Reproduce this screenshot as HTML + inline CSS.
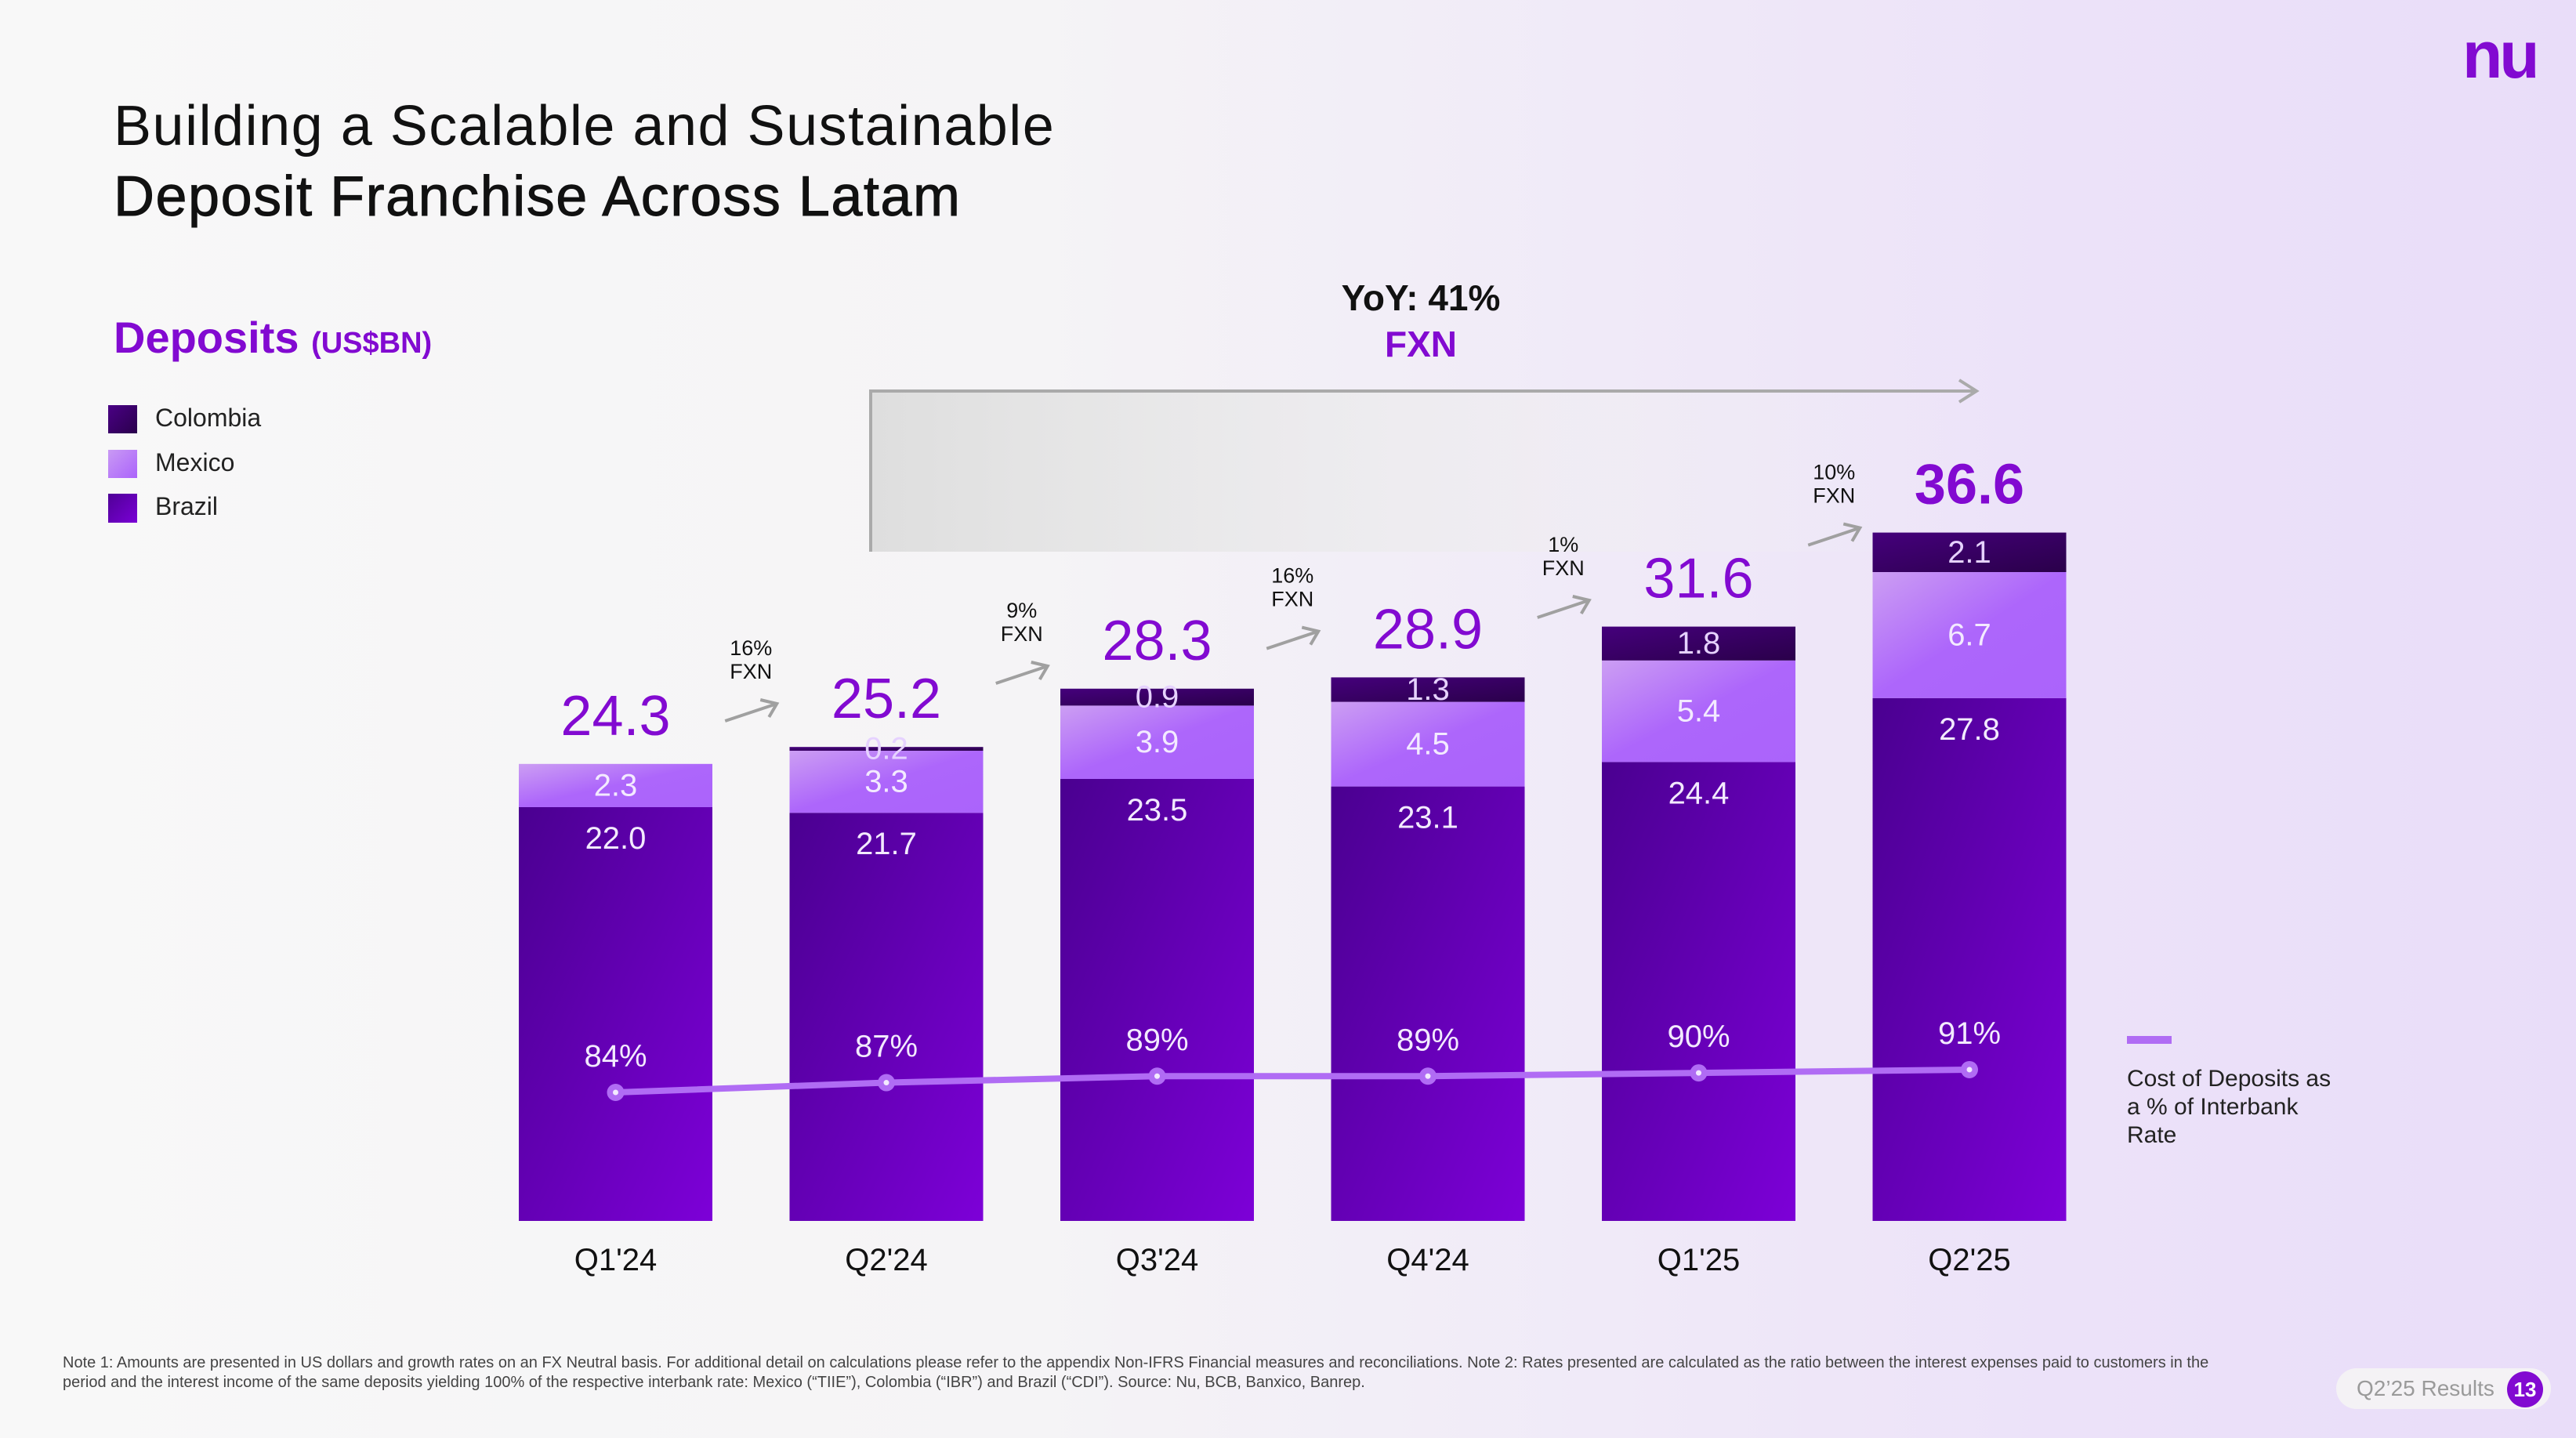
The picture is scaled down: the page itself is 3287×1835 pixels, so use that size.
<!DOCTYPE html>
<html><head><meta charset="utf-8">
<style>
html,body{margin:0;padding:0;}
body{width:3287px;height:1835px;overflow:hidden;background:linear-gradient(90deg,#f8f8f8 0%,#f5f4f6 40%,#ece2f9 80%,#e9ddf9 100%);font-family:"Liberation Sans",sans-serif;position:relative;}
.abs{position:absolute;}
</style></head>
<body>
<div class="abs" style="left:145px;top:116px;font-size:72px;letter-spacing:1.5px;line-height:90px;color:#111;white-space:nowrap;">Building a Scalable and Sustainable<br><span style="-webkit-text-stroke:1px #111;">Deposit Franchise Across Latam</span></div>
<div class="abs" style="left:3142px;top:28px;font-size:84px;font-weight:bold;color:#820ad1;letter-spacing:-4px;line-height:84px;">nu</div>
<div class="abs" style="left:145px;top:398px;font-size:56px;font-weight:bold;color:#820ad1;">Deposits <span style="font-size:38px;">(US$BN)</span></div>
<div class="abs" style="left:138px;top:517px;"><div style="position:absolute;width:37px;height:36px;background:linear-gradient(135deg,#4a0085,#2a004c);"></div><div style="position:absolute;left:60px;top:-2px;font-size:32px;color:#222;white-space:nowrap;">Colombia</div></div>
<div class="abs" style="left:138px;top:574px;"><div style="position:absolute;width:37px;height:36px;background:linear-gradient(135deg,#c99af4,#ab63fb);"></div><div style="position:absolute;left:60px;top:-2px;font-size:32px;color:#222;white-space:nowrap;">Mexico</div></div>
<div class="abs" style="left:138px;top:630px;"><div style="position:absolute;width:37px;height:37px;background:linear-gradient(135deg,#4f0096,#7a00d6);"></div><div style="position:absolute;left:60px;top:-2px;font-size:32px;color:#222;white-space:nowrap;">Brazil</div></div>

<svg class="abs" style="left:0;top:0" width="3287" height="1835">
<defs>
<linearGradient id="gBr" x1="0" y1="0" x2="1" y2="1"><stop offset="0" stop-color="#4a0090"/><stop offset="1" stop-color="#7d00d8"/></linearGradient>
<linearGradient id="gMx" x1="0" y1="0" x2="1" y2="1"><stop offset="0" stop-color="#cc9ef3"/><stop offset="0.5" stop-color="#ad66fb"/><stop offset="1" stop-color="#ab63fb"/></linearGradient>
<linearGradient id="gCo" x1="0" y1="0" x2="1" y2="1"><stop offset="0" stop-color="#45007c"/><stop offset="1" stop-color="#2a004a"/></linearGradient>
<linearGradient id="gBox" x1="0" y1="0" x2="1" y2="0"><stop offset="0" stop-color="#dedede"/><stop offset="0.6" stop-color="#eeeeee" stop-opacity="0.5"/><stop offset="1" stop-color="#f2f2f2" stop-opacity="0"/></linearGradient>
</defs>
<rect x="1111" y="499" width="1400" height="205" fill="url(#gBox)"/>
<line x1="1111" y1="499" x2="1111" y2="704" stroke="#aaa" stroke-width="4"/>
<line x1="1109" y1="499" x2="2522" y2="499" stroke="#aaa" stroke-width="4"/>
<polyline points="2500,485 2522,499 2500,513" fill="none" stroke="#aaa" stroke-width="4"/>
<text x="1813" y="396" text-anchor="middle" font-size="46" font-weight="bold" fill="#111" font-family="Liberation Sans">YoY: 41%</text>
<text x="1813" y="455" text-anchor="middle" font-size="46" font-weight="bold" fill="#820ad1" font-family="Liberation Sans">FXN</text>
<g id="bars"></g>
<g id="line"></g>
<rect x="2714" y="1322" width="57" height="10" fill="#b06cf4"/>
<text font-size="30" fill="#222" font-family="Liberation Sans"><tspan x="2714" y="1386">Cost of Deposits as</tspan><tspan x="2714" y="1422">a % of Interbank</tspan><tspan x="2714" y="1458">Rate</tspan></text>
</svg>

<div class="abs" style="left:80px;top:1727px;font-size:20px;line-height:25px;color:#444;width:2760px;">Note 1: Amounts are presented in US dollars and growth rates on an FX Neutral basis. For additional detail on calculations please refer to the appendix Non-IFRS Financial measures and reconciliations. Note 2: Rates presented are calculated as the ratio between the interest expenses paid to customers in the period and the interest income of the same deposits yielding 100% of the respective interbank rate: Mexico (“TIIE”), Colombia (“IBR”) and Brazil (“CDI”). Source: Nu, BCB, Banxico, Banrep.</div>
<div class="abs" style="left:2981px;top:1746px;width:274px;height:52px;border-radius:26px;background:#f4f2f5;">
<div style="position:absolute;left:26px;top:10px;font-size:28px;color:#9a9a9a;white-space:nowrap;">Q2’25 Results</div>
<div style="position:absolute;left:218px;top:4px;width:46px;height:46px;border-radius:23px;background:#820ad1;color:#fff;font-size:26px;font-weight:bold;text-align:center;line-height:46px;">13</div>
</div>

<script>
const categories = ["Q1'24","Q2'24","Q3'24","Q4'24","Q1'25","Q2'25"];
const brazil = [22.0,21.7,23.5,23.1,24.4,27.8];
const mexico = [2.3,3.3,3.9,4.5,5.4,6.7];
const colombia = [0,0.2,0.9,1.3,1.8,2.1];
const totals = [24.3,25.2,28.3,28.9,31.6,36.6];
const costPct = [84,87,89,89,90,91];
const growthLabels = ["16%","9%","16%","1%","10%"];

const NS='http://www.w3.org/2000/svg';
const baseY=1558, pxPerBn=24, barW=247, x0=662, step=345.5;
function xLeft(i){return x0+i*step;}
function xMid(i){return xLeft(i)+barW/2;}
function yVal(v){return baseY-v*pxPerBn;}
function yPct(p){return 1394-(p-84)*4.15;}
function mk(tag,attrs,parent){const e=document.createElementNS(NS,tag);for(const k in attrs)e.setAttribute(k,attrs[k]);parent.appendChild(e);return e;}
function txt(s,x,y,size,fill,parent,weight){const t=mk('text',{x:x,y:y,'text-anchor':'middle','dominant-baseline':'central','font-size':size,fill:fill,'font-family':'Liberation Sans','font-weight':weight||'normal'},parent);t.textContent=s;return t;}
const gb=document.getElementById('bars');
const fmt=v=>v.toFixed(1);
categories.forEach((c,i)=>{
  const x=xLeft(i);
  const bTop=yVal(brazil[i]), mTop=yVal(brazil[i]+mexico[i]), cTop=yVal(brazil[i]+mexico[i]+colombia[i]);
  let r=mk('rect',{x:x,y:bTop,width:barW,height:baseY-bTop,fill:'url(#gBr)'},gb);
  
  
  r=mk('rect',{x:x,y:mTop,width:barW,height:bTop-mTop,fill:'url(#gMx)'},gb);
  
  
  if(colombia[i]>0){
    r=mk('rect',{x:x,y:cTop,width:barW,height:mTop-cTop,fill:'url(#gCo)'},gb);
    
    
    let t=txt(fmt(colombia[i]),xMid(i),(cTop+mTop)/2,40,'#e6d2ff',gb);
    
    
  }
  let t=txt(fmt(brazil[i]),xMid(i),bTop+40,40,'#f3eaff',gb);
  
  
  t=txt(fmt(mexico[i]),xMid(i),(mTop+bTop)/2,40,'#f3eaff',gb);
  
  
  const last=i===categories.length-1;
  t=txt(fmt(totals[i]),xMid(i),yVal(totals[i])-61,72,'#820ad1',gb,last?'bold':'normal');
  
  
  t=txt(c,xMid(i),1608,40,'#111',gb);
  
  
  t=txt(costPct[i]+'%',xMid(i),yPct(costPct[i])-46,40,'#f3eaff',gb);
  
  
});
growthLabels.forEach((g,i)=>{
  const cx=(xLeft(i)+barW+xLeft(i+1))/2;
  const ay=(yVal(totals[i])+yVal(totals[i+1]))/2-55;
  const grp=mk('g',{},gb);
  
  
  mk('line',{x1:cx-33,y1:ay+11,x2:cx+33,y2:ay-11,stroke:'#a0a0a0','stroke-width':4},grp);
  mk('polyline',{points:(cx+12)+','+(ay-16)+' '+(cx+33)+','+(ay-11)+' '+(cx+23)+','+(ay+6),fill:'none',stroke:'#a0a0a0','stroke-width':4},grp);
  txt(g,cx,ay-82,27,'#111',grp);
  txt('FXN',cx,ay-52,27,'#111',grp);
});
const gl=document.getElementById('line');
const pts=costPct.map((p,i)=>xMid(i)+','+yPct(p)).join(' ');
const pl=mk('polyline',{points:pts,fill:'none',stroke:'#b06cf4','stroke-width':8},gl);


costPct.forEach((p,i)=>{
  const c=mk('circle',{cx:xMid(i),cy:yPct(p),r:11,fill:'#b06cf4'},gl);
  
  
  const d=mk('circle',{cx:xMid(i),cy:yPct(p),r:3.5,fill:'#f3eaff'},gl);
  
  
});
</script>
</body></html>
